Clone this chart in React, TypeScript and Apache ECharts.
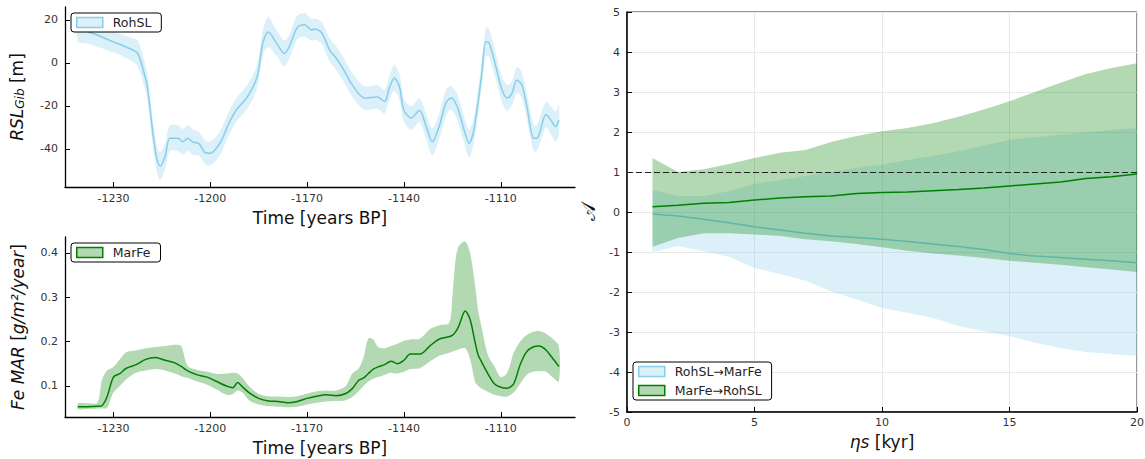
import React, { useEffect, useRef } from "react";
import * as echarts from "echarts";

// ---------- tick values ----------
const timeTicks = [-1230, -1200, -1170, -1140, -1110];
const rslTicks = [-40, -20, 0, 20];
const feTicks = [0.1, 0.2, 0.3, 0.4];

// ---------- top-left panel: RohSL (relative sea level, Gibraltar) ----------
const rslTime = [-1241, -1238, -1235, -1232, -1230, -1227, -1224, -1222.5, -1221, -1219.5,
  -1218, -1216.5, -1215.5, -1214, -1212.5, -1210, -1208.5, -1207, -1205.5, -1203.5,
  -1201.5, -1200, -1198, -1196.5, -1194.5, -1192, -1188.5, -1185.5, -1183.7, -1182,
  -1179.5, -1177, -1175.4, -1173, -1170.7, -1168.6, -1167.7, -1165.5, -1163, -1161,
  -1159, -1156, -1152.2, -1148.2, -1146, -1144.5, -1143, -1141.4, -1140, -1137.7,
  -1135.2, -1133.1, -1131.2, -1129.1, -1127, -1125.4, -1123.5, -1121.4, -1119.8, -1118.3,
  -1116, -1114.6, -1113.6, -1111.5, -1109.6, -1108, -1106.5, -1105, -1103.5, -1101.9,
  -1099.8, -1098.8, -1096, -1094.5, -1093, -1092];
const rslMean = [16, 14.5, 13, 11, 9.8, 8, 6, 4.5, -2, -11,
  -30, -45, -48, -43.5, -35, -35, -36.7, -35, -36.7, -37.5,
  -41.8, -42, -39.5, -36, -29, -22, -15.8, -6.5, 9.3, 14.4,
  9.3, 4.4, 8, 16.5, 17.7, 15.3, 15.8, 14, 6, 2.3,
  -2.3, -10.2, -16.3, -15.8, -18, -11.6, -7, -11, -22, -25.6,
  -22, -29.6, -36.7, -29.6, -18.7, -16.3, -20.3, -31, -37.4, -31,
  -6.5, 9.8, 9.3, -1.8, -12.6, -16.3, -14, -7.9, -10.2, -20.3,
  -35, -35, -24, -26.5, -29.6, -26.5];
const rslErr = [6, 5.5, 5.5, 5, 5, 5, 5.5, 6, 6, 6,
  6, 6, 6.5, 6, 6, 6, 6, 6, 6, 5.5,
  5.5, 5.5, 5.5, 5.5, 5.5, 5.5, 5.5, 5.5, 6, 7,
  6, 6, 5.5, 5.5, 5.5, 5, 5, 5, 5.5, 5.5,
  5.5, 5.5, 5.5, 5.5, 5.5, 5.5, 6, 6, 5.5, 5.5,
  5.5, 6, 6.3, 6, 6, 5.5, 6, 6, 6.5, 6,
  6, 6.5, 6.5, 6, 6, 6, 5.5, 6, 6, 6,
  6, 6, 6, 6.5, 7, 7];

// ---------- bottom-left panel: MarFe (Fe mass accumulation rate) ----------
const feTime = [-1241, -1238, -1235, -1233.5, -1232, -1230, -1228, -1226, -1223, -1220,
  -1217, -1214, -1211, -1209, -1207, -1204, -1201, -1198, -1195, -1193,
  -1191.5, -1190, -1188, -1185, -1182, -1179, -1176, -1173, -1170, -1167,
  -1164, -1161, -1158, -1156, -1154, -1152.5, -1151, -1149.5, -1148, -1146,
  -1144, -1142, -1140, -1138, -1135, -1132, -1129, -1126, -1125, -1124,
  -1123, -1121, -1119.5, -1118, -1117, -1116, -1114, -1112, -1110, -1108,
  -1106, -1104, -1102, -1100, -1098, -1096, -1094, -1092];
const feMean = [0.053, 0.053, 0.054, 0.056, 0.075, 0.12, 0.128, 0.14, 0.148, 0.16,
  0.164, 0.158, 0.152, 0.144, 0.134, 0.125, 0.12, 0.11, 0.1, 0.096,
  0.108, 0.098, 0.085, 0.072, 0.066, 0.065, 0.062, 0.065, 0.072, 0.077,
  0.08, 0.078, 0.083, 0.094, 0.113, 0.118, 0.128, 0.138, 0.143, 0.148,
  0.156, 0.15, 0.158, 0.172, 0.172, 0.19, 0.206, 0.211, 0.214, 0.222,
  0.235, 0.269, 0.25, 0.2, 0.17, 0.155, 0.128, 0.105, 0.097, 0.095,
  0.105, 0.148, 0.177, 0.188, 0.19, 0.181, 0.163, 0.144];
const feLower = [0.048, 0.048, 0.049, 0.05, 0.05, 0.085, 0.1, 0.115, 0.13, 0.135,
  0.138, 0.135, 0.128, 0.122, 0.118, 0.11, 0.103, 0.092, 0.08, 0.082,
  0.09, 0.085, 0.068, 0.058, 0.054, 0.053, 0.052, 0.053, 0.058, 0.062,
  0.065, 0.066, 0.068, 0.075, 0.088, 0.1, 0.11, 0.116, 0.12, 0.125,
  0.13, 0.128, 0.132, 0.138, 0.14, 0.155, 0.168, 0.175, 0.178, 0.18,
  0.183, 0.185, 0.16, 0.11, 0.1, 0.095, 0.087, 0.08, 0.077, 0.076,
  0.085, 0.105, 0.125, 0.132, 0.133, 0.132, 0.12, 0.11];
const feUpper = [0.06, 0.061, 0.062, 0.115, 0.135, 0.143, 0.16, 0.176, 0.18, 0.185,
  0.188, 0.19, 0.193, 0.19, 0.145, 0.136, 0.132, 0.127, 0.128, 0.13,
  0.128, 0.118, 0.1, 0.082, 0.077, 0.076, 0.075, 0.077, 0.083, 0.088,
  0.09, 0.09, 0.1, 0.128, 0.14, 0.165, 0.207, 0.205, 0.188, 0.185,
  0.19, 0.195, 0.202, 0.205, 0.207, 0.228, 0.237, 0.242, 0.3, 0.385,
  0.415, 0.426, 0.4, 0.33, 0.27, 0.235, 0.17, 0.145, 0.12, 0.13,
  0.175, 0.2, 0.215, 0.222, 0.224, 0.218, 0.207, 0.19];

// ---------- right panel: causal strength vs ηs ----------
const etaS = [1, 2, 3, 4, 5, 6, 7, 8, 9, 10, 11, 12, 13, 14, 15, 16, 17, 18, 19, 20];
const rohToMarMean = [-0.05, -0.1, -0.18, -0.27, -0.37, -0.45, -0.53, -0.6, -0.64, -0.68,
  -0.74, -0.8, -0.86, -0.94, -1.04, -1.1, -1.14, -1.18, -1.22, -1.27];
const rohToMarLower = [-1.0, -0.85, -0.98, -1.12, -1.4, -1.55, -1.72, -1.98, -2.18, -2.4,
  -2.52, -2.65, -2.85, -2.98, -3.1, -3.27, -3.4, -3.5, -3.55, -3.6];
const rohToMarUpper = [0.55, 0.4, 0.4, 0.52, 0.7, 0.8, 0.9, 1.0, 1.1, 1.18,
  1.3, 1.4, 1.52, 1.66, 1.8, 1.87, 1.93, 1.99, 2.05, 2.1];
const marToRohMean = [0.13, 0.17, 0.22, 0.24, 0.3, 0.35, 0.38, 0.4, 0.46, 0.49,
  0.5, 0.53, 0.56, 0.6, 0.65, 0.7, 0.75, 0.84, 0.88, 0.95];
const marToRohLower = [-0.87, -0.65, -0.53, -0.53, -0.56, -0.6, -0.68, -0.73, -0.8, -0.88,
  -0.97, -1.04, -1.09, -1.15, -1.22, -1.27, -1.32, -1.38, -1.44, -1.5];
const marToRohUpper = [1.35, 1.0, 1.07, 1.2, 1.35, 1.48, 1.55, 1.75, 1.9, 2.02,
  2.1, 2.22, 2.38, 2.56, 2.77, 3.0, 3.23, 3.45, 3.6, 3.72];
const thresholdValue = 1;

// ---------- styling ----------
const SKY = "#87ceeb";
const SKY_FILL = "rgba(135,206,235,0.3)";
const GREEN = "#008000";
const GREEN_FILL = "rgba(0,128,0,0.3)";
const FONT = "'DejaVu Sans', sans-serif";

function band(name: string, xs: number[], lo: number[], hi: number[], fill: string, gi: number, z: number, smooth: number) {
  const data = xs.map((x, i) => [x, lo[i], hi[i]]);
  return {
    type: "custom",
    name,
    xAxisIndex: gi,
    yAxisIndex: gi,
    z,
    data,
    encode: { x: 0, y: [1, 2] },
    silent: true,
    renderItem: (params: any, api: any) => {
      if (params.dataIndex !== 0) return null;
      const upper = data.map((d) => api.coord([d[0], d[2]]));
      const lower = data.map((d) => api.coord([d[0], d[1]])).reverse();
      return {
        type: "polygon",
        shape: { points: upper.concat(lower), smooth },
        style: { fill, lineWidth: 0 },
      };
    },
  };
}

function meanLine(name: string, xs: number[], ys: number[], color: string, gi: number, z: number, extra: any = {}) {
  return {
    type: "line",
    name,
    xAxisIndex: gi,
    yAxisIndex: gi,
    z,
    data: xs.map((x, i) => [x, ys[i]]),
    showSymbol: false,
    symbol: "none",
    smooth: 0.3,
    silent: true,
    lineStyle: { color, width: 1.5 },
    itemStyle: { color },
    ...extra,
  };
}

const fmt = (v: number) => `${v}`;

function leftXAxis(gi: number) {
  return {
    gridIndex: gi,
    type: "value",
    min: -1245,
    max: -1087,
    axisLine: { show: true, onZero: false, lineStyle: { color: "#000", width: 1.3 } },
    axisTick: { show: true, inside: true, length: 5, customValues: timeTicks, lineStyle: { color: "#000" } },
    axisLabel: { customValues: timeTicks, formatter: fmt, fontSize: 11, color: "#333", margin: 6, fontFamily: FONT },
    splitLine: { show: false },
    name: "Time [years BP]",
    nameLocation: "middle",
    nameGap: 22,
    nameTextStyle: { fontSize: 17, color: "#111", fontFamily: FONT },
  };
}

const legendCommon = {
  backgroundColor: "#fff",
  borderColor: "#000",
  borderWidth: 1,
  borderRadius: 3,
  padding: [3, 10, 3, 5],
  itemWidth: 26,
  itemHeight: 10,
  itemGap: 6,
  selectedMode: false,
  textStyle: { fontSize: 12.5, color: "#222", fontFamily: FONT, padding: [0, 0, 0, 5] },
};

const option: any = {
  animation: false,
  backgroundColor: "#fff",
  textStyle: { fontFamily: FONT },
  grid: [
    { left: 65, top: 7, width: 510, height: 180, outerBoundsMode: "none" },
    { left: 65, top: 237, width: 510, height: 180, outerBoundsMode: "none" },
    { left: 627, top: 12, width: 510, height: 400, show: true, borderColor: "#333", borderWidth: 1, outerBoundsMode: "none" },
  ],
  xAxis: [
    leftXAxis(0),
    leftXAxis(1),
    {
      gridIndex: 2,
      type: "value",
      min: 0,
      max: 20,
      interval: 5,
      axisLine: { show: true, onZero: false, lineStyle: { color: "#000", width: 1.5 } },
      axisTick: { show: true, inside: true, length: 5, lineStyle: { color: "#000" } },
      axisLabel: { formatter: fmt, fontSize: 11, color: "#333", margin: 5 },
      splitLine: { show: true, lineStyle: { color: "#e9e9e9", width: 1 } },
      name: "{i|ηs} [kyr]",
      nameLocation: "middle",
      nameGap: 21,
      nameTextStyle: { fontSize: 17, color: "#111", rich: { i: { fontSize: 17, fontStyle: "italic", color: "#111" } } },
    },
  ],
  yAxis: [
    {
      gridIndex: 0,
      type: "value",
      min: -57.7,
      max: 26,
      axisLine: { show: true, onZero: false, lineStyle: { color: "#000", width: 1.3 } },
      axisTick: { show: true, inside: true, length: 5, customValues: rslTicks, lineStyle: { color: "#000" } },
      axisLabel: { customValues: rslTicks, formatter: fmt, fontSize: 11, color: "#333", margin: 7 },
      splitLine: { show: false },
      name: "{i|RSL}{s|Gib} [m]",
      nameLocation: "middle",
      nameGap: 39,
      nameTextStyle: {
        fontSize: 17,
        color: "#111",
        rich: {
          i: { fontSize: 17, fontStyle: "italic", color: "#111" },
          s: { fontSize: 12, fontStyle: "italic", color: "#111", verticalAlign: "bottom", padding: [7, 0, 0, 0] },
        },
      },
    },
    {
      gridIndex: 1,
      type: "value",
      min: 0.03,
      max: 0.436,
      axisLine: { show: true, onZero: false, lineStyle: { color: "#000", width: 1.3 } },
      axisTick: { show: true, inside: true, length: 5, customValues: feTicks, lineStyle: { color: "#000" } },
      axisLabel: { customValues: feTicks, formatter: fmt, fontSize: 11, color: "#333", margin: 7 },
      splitLine: { show: false },
      name: "{i|Fe MAR} [{i|g/m²/year}]",
      nameLocation: "middle",
      nameGap: 39,
      nameTextStyle: { fontSize: 17, color: "#111", rich: { i: { fontSize: 17, fontStyle: "italic", color: "#111" } } },
    },
    {
      gridIndex: 2,
      type: "value",
      min: -5,
      max: 5,
      interval: 1,
      axisLine: { show: true, onZero: false, lineStyle: { color: "#000", width: 1.5 } },
      axisTick: { show: true, inside: true, length: 5, lineStyle: { color: "#000" } },
      axisLabel: { formatter: fmt, fontSize: 11, color: "#333", margin: 7 },
      splitLine: { show: true, lineStyle: { color: "#e9e9e9", width: 1 } },
      name: "𝒜",
      nameLocation: "middle",
      nameGap: 30,
      nameTextStyle: { fontSize: 19, color: "#111" },
    },
  ],
  legend: [
    {
      ...legendCommon,
      left: 71,
      top: 13,
      data: [{ name: "RohSL", icon: "rect", itemStyle: { color: SKY_FILL, borderColor: SKY, borderWidth: 1.5 } }],
    },
    {
      ...legendCommon,
      left: 71,
      top: 243,
      data: [{ name: "MarFe", icon: "rect", itemStyle: { color: GREEN_FILL, borderColor: GREEN, borderWidth: 1.5 } }],
    },
    {
      ...legendCommon,
      left: 633,
      top: 362,
      orient: "vertical",
      data: [
        { name: "RohSL→MarFe", icon: "rect", itemStyle: { color: SKY_FILL, borderColor: SKY, borderWidth: 1.5 } },
        { name: "MarFe→RohSL", icon: "rect", itemStyle: { color: GREEN_FILL, borderColor: GREEN, borderWidth: 1.5 } },
      ],
    },
  ],
  series: [
    band("RohSL", rslTime, rslMean.map((m, i) => m - rslErr[i]), rslMean.map((m, i) => m + rslErr[i]), SKY_FILL, 0, 1, 0.3),
    meanLine("RohSL mean", rslTime, rslMean, SKY, 0, 2),
    band("MarFe", feTime, feLower, feUpper, GREEN_FILL, 1, 1, 0.3),
    meanLine("MarFe mean", feTime, feMean, GREEN, 1, 2),
    band("RohSL→MarFe", etaS, rohToMarLower, rohToMarUpper, SKY_FILL, 2, 1, 0),
    meanLine("RohSL→MarFe mean", etaS, rohToMarMean, SKY, 2, 2, { smooth: false }),
    band("MarFe→RohSL", etaS, marToRohLower, marToRohUpper, GREEN_FILL, 2, 3, 0),
    meanLine("MarFe→RohSL mean", etaS, marToRohMean, GREEN, 2, 4, {
      smooth: false,
      markLine: {
        silent: true,
        symbol: ["none", "none"],
        label: { show: false },
        lineStyle: { type: [6, 3], color: "#222", width: 1.2 },
        data: [{ yAxis: thresholdValue }],
      },
    }),
  ],
};

export default function App() {
  const ref = useRef<HTMLDivElement>(null);
  useEffect(() => {
    document.body.style.margin = "0";
    const chart = echarts.init(ref.current!, null, { renderer: "svg" });
    chart.setOption(option);
    return () => chart.dispose();
  }, []);
  return <div ref={ref} style={{ width: 1145, height: 459 }} />;
}
